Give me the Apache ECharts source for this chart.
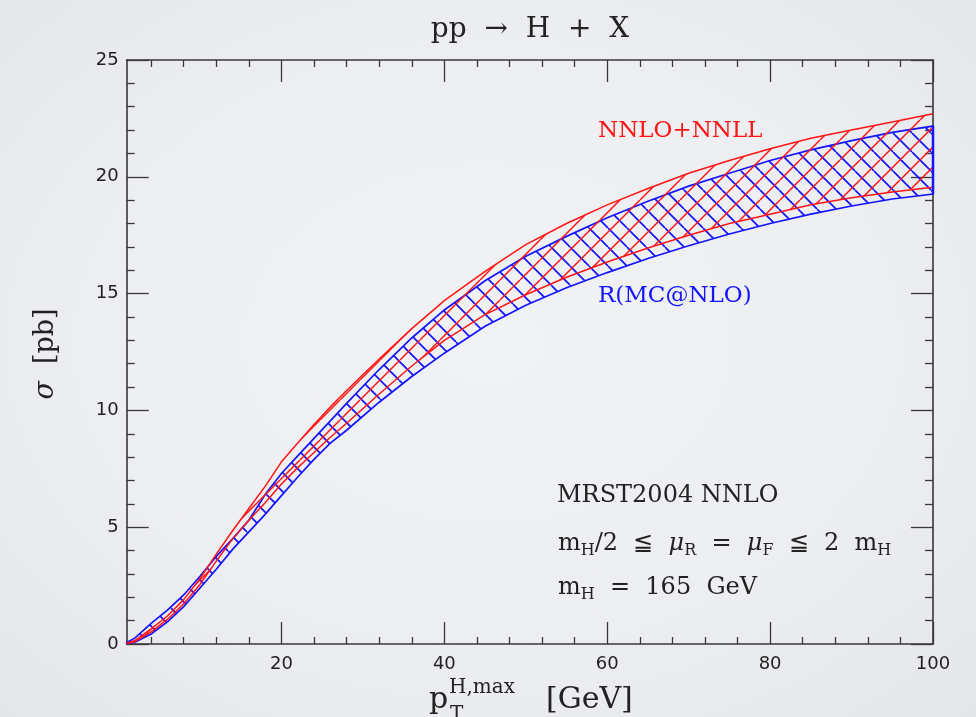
<!DOCTYPE html>
<html><head><meta charset="utf-8">
<script src="https://cdn.jsdelivr.net/npm/echarts@6/dist/echarts.min.js"></script>
<style>
html,body{margin:0;padding:0;width:976px;height:717px;overflow:hidden;
background: radial-gradient(ellipse 75% 75% at 50% 48%, #f1f2f4 0%, #edeef1 55%, #e3e5e9 100%);}
#c{width:976px;height:717px;}
</style></head><body><div id="c"></div>
<script>
// ---- data ----
const ptMax      = [1, 2, 4, 6, 8, 10, 12, 14, 16, 18, 20, 22, 24, 26, 28, 32, 36, 40, 45, 50, 55, 60, 65, 70, 75, 80, 85, 90, 95, 100];
const nnllUpper  = [0.03, 0.15, 0.65, 1.2, 1.9, 2.8, 3.85, 4.85, 5.8, 6.75, 7.8, 8.6, 9.4, 10.15, 10.85, 12.2, 13.5, 14.7, 15.95, 17.1, 18.0, 18.8, 19.5, 20.15, 20.7, 21.2, 21.65, 22.0, 22.35, 22.7];
const nnllLower  = [0.02, 0.1, 0.52, 1.05, 1.72, 2.55, 3.55, 4.5, 5.3, 6.05, 6.85, 7.55, 8.2, 8.85, 9.45, 10.7, 11.9, 13.0, 14.1, 14.95, 15.7, 16.35, 16.95, 17.5, 18.0, 18.4, 18.8, 19.1, 19.35, 19.55];
const mcnloUpper = [0.06, 0.25, 0.88, 1.45, 2.1, 2.9, 3.75, 4.5, 5.3, 6.4, 7.3, 8.05, 8.8, 9.55, 10.3, 11.75, 13.1, 14.3, 15.55, 16.6, 17.45, 18.25, 18.95, 19.6, 20.15, 20.7, 21.15, 21.55, 21.9, 22.17];
const mcnloLower = [0.02, 0.08, 0.43, 0.95, 1.6, 2.4, 3.2, 4.05, 4.8, 5.55, 6.35, 7.15, 7.9, 8.6, 9.15, 10.35, 11.45, 12.45, 13.6, 14.5, 15.25, 15.9, 16.5, 17.05, 17.55, 18.0, 18.4, 18.75, 19.05, 19.26];
const xMajorTicks = [20, 40, 60, 80, 100];
const xMinorTicks = [4, 8, 12, 16, 24, 28, 32, 36, 44, 48, 52, 56, 64, 68, 72, 76, 84, 88, 92, 96];
const xRange = [1, 100];
const yRange = [0, 25];
const yStep = 5;

const RED = '#ff1414', BLUE = '#1414ff', INK = '#222222', AXIS = '#383838';
const SERIF = "'DejaVu Serif', serif";
const SANS = "'DejaVu Sans', sans-serif";

function hatch(color, dir, size, lw) {
  const c = document.createElement('canvas');
  c.width = size; c.height = size;
  const ctx = c.getContext('2d');
  ctx.strokeStyle = color; ctx.lineWidth = lw;
  ctx.beginPath();
  for (let k = -1; k <= 1; k++) {
    if (dir === '/') { ctx.moveTo(k * size, size); ctx.lineTo(k * size + size, 0); }
    else { ctx.moveTo(k * size, 0); ctx.lineTo(k * size + size, size); }
  }
  ctx.stroke();
  return c;
}

function band(name, upper, lower, color, dir, size, lw, stroke, z) {
  const pattern = { image: hatch(color, dir, size, lw), repeat: 'repeat' };
  return {
    name, type: 'custom', xAxisIndex: 0, yAxisIndex: 0, silent: true, z,
    data: ptMax.map((x, i) => [x, lower[i], upper[i]]),
    encode: { x: 0, y: [1, 2] },
    renderItem(params, api) {
      if (params.dataIndex !== 0) return null;
      const pts = [];
      for (let i = 0; i < ptMax.length; i++) pts.push(api.coord([ptMax[i], upper[i]]));
      for (let i = ptMax.length - 1; i >= 0; i--) pts.push(api.coord([ptMax[i], lower[i]]));
      return { type: 'polygon', shape: { points: pts },
        style: { fill: pattern, stroke: stroke ? color : 'none', lineWidth: 1.7 } };
    }
  };
}
function edge(arr, color, z) {
  return { type: 'line', xAxisIndex: 0, yAxisIndex: 0, silent: true, z, symbol: 'none',
    data: ptMax.map((x, i) => [x, arr[i]]), lineStyle: { color, width: 1.5 } };
}

const axisLine = { show: true, onZero: false, lineStyle: { color: AXIS, width: 1.6 } };
const tickStyle = { color: AXIS, width: 1.3 };
const labelStyle = { fontFamily: SANS, fontSize: 18, color: INK };

function xAx(grid, pos, ticks, len, labels) {
  return { gridIndex: grid, type: 'value', position: pos, min: xRange[0], max: xRange[1],
    axisLine: grid === 0 ? axisLine : { show: false },
    axisTick: { show: true, inside: true, length: len, customValues: ticks, lineStyle: tickStyle },
    axisLabel: labels ? Object.assign({ show: true, customValues: ticks, margin: 11 }, labelStyle) : { show: false },
    splitLine: { show: false } };
}
function yAx(pos, labels) {
  return { gridIndex: 0, type: 'value', position: pos, min: yRange[0], max: yRange[1], interval: yStep,
    axisLine, axisTick: { show: true, inside: true, length: 22, lineStyle: tickStyle },
    minorTick: { show: true, splitNumber: 5, length: 8, lineStyle: tickStyle },
    axisLabel: labels ? Object.assign({ show: true, margin: 8 }, labelStyle) : { show: false },
    splitLine: { show: false }, minorSplitLine: { show: false } };
}

const gridRect = { left: 126.7, right: 43, top: 60, bottom: 73 };

function txt(x, y, text, size, color, extra) {
  return Object.assign({ type: 'text', x, y, silent: true,
    style: { text, font: size + 'px ' + SERIF, fill: color, align: 'left', verticalAlign: 'middle',
      textAlign: 'left', textVerticalAlign: 'middle' } }, extra || {});
}

const option = {
  animation: false,
  backgroundColor: 'transparent',
  grid: [Object.assign({}, gridRect), Object.assign({}, gridRect)],
  xAxis: [
    xAx(0, 'bottom', xMajorTicks, 22, true),
    xAx(0, 'top', xMajorTicks, 22, false),
    xAx(1, 'bottom', xMinorTicks, 7, false),
    xAx(1, 'top', xMinorTicks, 7, false)
  ],
  yAxis: [
    yAx('left', true),
    yAx('right', false),
    { gridIndex: 1, type: 'value', min: yRange[0], max: yRange[1], show: false }
  ],
  series: [
    band('R(MC@NLO)', mcnloUpper, mcnloLower, BLUE, '\\', 19, 1.7, true, 2),
    band('NNLO+NNLL', nnllUpper, nnllLower, RED, '/', 20, 1.5, false, 3),
    edge(nnllUpper, RED, 4),
    edge(nnllLower, RED, 4)
  ],
  graphic: [
    { type: 'text', x: 530, y: 30, silent: true,
      style: { text: 'pp  →  H  +  X', font: '28px ' + SERIF, fill: INK, align: 'center', verticalAlign: 'middle', textAlign: 'center', textVerticalAlign: 'middle' } },
    { type: 'text', x: 46, y: 354, rotation: Math.PI / 2, silent: true,
      style: { text: '{s|σ}  [pb]', font: '27px ' + SERIF, fill: INK, align: 'center', verticalAlign: 'middle', textAlign: 'center', textVerticalAlign: 'middle',
        rich: { s: { fontStyle: 'italic', fontSize: 27, fontFamily: SERIF, fill: INK } } } },
    // x-axis title pieces
    txt(429, 700, 'p', 30, INK),
    txt(449, 688, 'H,max', 20, INK),
    txt(450, 715, 'T', 20, INK),
    txt(546, 700, '[GeV]', 30, INK),
    // band labels
    txt(598, 131, 'NNLO+NNLL', 23, RED),
    txt(598, 296, 'R(MC@NLO)', 23, BLUE),
    // annotation
    txt(557, 496, 'MRST2004 NNLO', 24, INK),
    { type: 'text', x: 558, y: 544, silent: true,
      style: { text: '{m|m}{s|H}{m|/2  ≦  }{g|μ}{s|R}{m|  =  }{g|μ}{s|F}{m|  ≦  2  m}{s|H}',
        font: '24px ' + SERIF, fill: INK, align: 'left', verticalAlign: 'middle', textAlign: 'left', textVerticalAlign: 'middle',
        rich: {
          m: { fontSize: 24, fontFamily: SERIF, lineHeight: 30, fill: INK },
          g: { fontSize: 24, fontFamily: SERIF, fontStyle: 'italic', lineHeight: 30, fill: INK },
          s: { fontSize: 16, fontFamily: SERIF, lineHeight: 12, verticalAlign: 'bottom', fill: INK }
        } } },
    { type: 'text', x: 558, y: 588, silent: true,
      style: { text: '{m|m}{s|H}{m|  =  165  GeV}',
        font: '24px ' + SERIF, fill: INK, align: 'left', verticalAlign: 'middle', textAlign: 'left', textVerticalAlign: 'middle',
        rich: {
          m: { fontSize: 24, fontFamily: SERIF, lineHeight: 30, fill: INK },
          s: { fontSize: 16, fontFamily: SERIF, lineHeight: 12, verticalAlign: 'bottom', fill: INK }
        } } }
  ]
};
// blue closing edge at the last pT value
option.series.push({ type: 'line', xAxisIndex: 0, yAxisIndex: 0, silent: true, z: 5, symbol: 'none',
  data: [[ptMax[ptMax.length - 1], mcnloLower[mcnloLower.length - 1]], [ptMax[ptMax.length - 1], mcnloUpper[mcnloUpper.length - 1]]],
  lineStyle: { color: BLUE, width: 2.5 } });

const chart = echarts.init(document.getElementById('c'), null, { renderer: 'canvas' });
chart.setOption(option);
</script>
</body></html>
